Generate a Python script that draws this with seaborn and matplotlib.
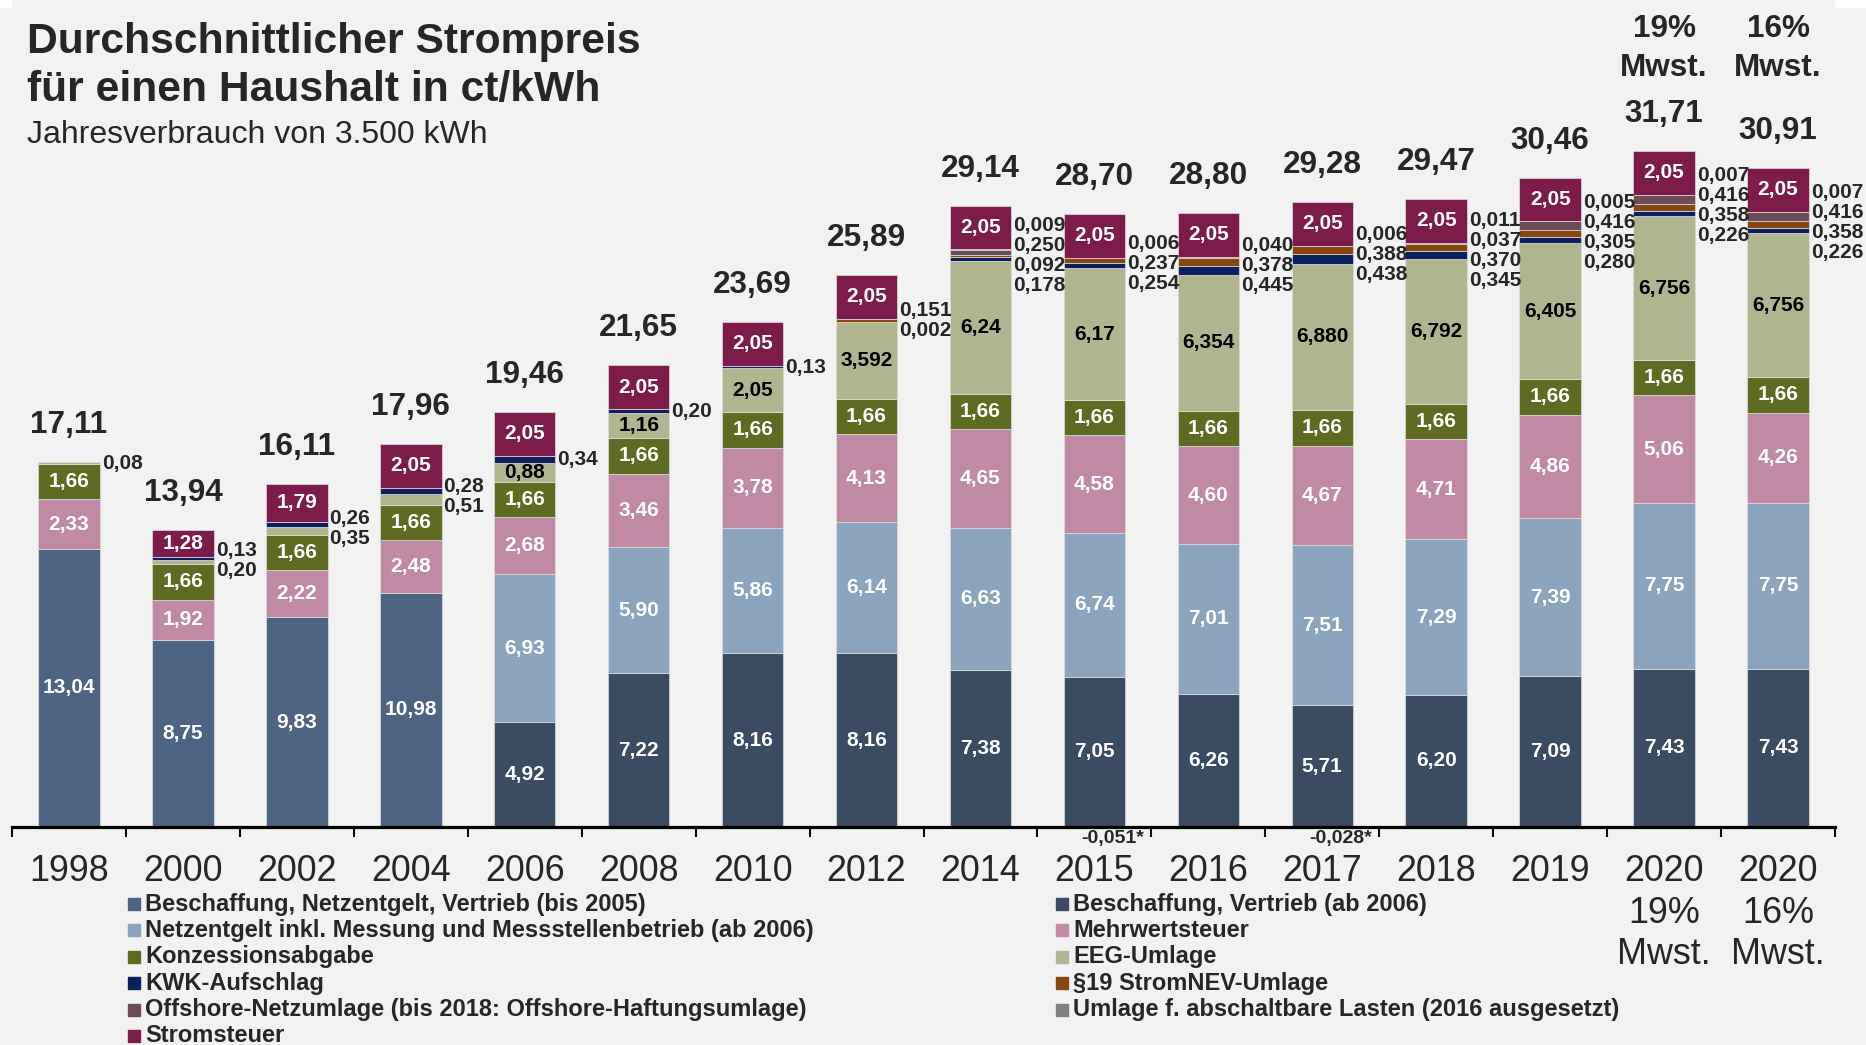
import numpy as np
import pandas as pd
import matplotlib.pyplot as plt
import matplotlib.transforms as mtrans
from matplotlib.patches import Rectangle
import seaborn as sns

# --------- DATA (ct/kWh) ----------
years = ["1998", "2000", "2002", "2004", "2006", "2008", "2010", "2012",
         "2014", "2015", "2016", "2017", "2018", "2019", "2020", "2020"]
year_labels = years[:14] + ["2020\n19%\nMwst.", "2020\n16%\nMwst."]
totals = [17.11, 13.94, 16.11, 17.96, 19.46, 21.65, 23.69, 25.89,
          29.14, 28.70, 28.80, 29.28, 29.47, 30.46, 31.71, 30.91]

beschaffung_bis2005 = [13.04, 8.75, 9.83, 10.98, 0, 0, 0, 0, 0, 0, 0, 0, 0, 0, 0, 0]
beschaffung_ab2006 = [0, 0, 0, 0, 4.92, 7.22, 8.16, 8.16, 7.38, 7.05, 6.26, 5.71, 6.20, 7.09, 7.43, 7.43]
netzentgelt = [0, 0, 0, 0, 6.93, 5.90, 5.86, 6.14, 6.63, 6.74, 7.01, 7.51, 7.29, 7.39, 7.75, 7.75]
mwst = [2.33, 1.92, 2.22, 2.48, 2.68, 3.46, 3.78, 4.13, 4.65, 4.58, 4.60, 4.67, 4.71, 4.86, 5.06, 4.26]
konzession = [1.66, 1.66, 1.66, 1.66, 1.66, 1.66, 1.66, 1.66, 1.66, 1.66, 1.66, 1.66, 1.66, 1.66, 1.66, 1.66]
eeg = [0.08, 0.20, 0.35, 0.51, 0.88, 1.16, 2.05, 3.592, 6.24, 6.17, 6.354, 6.880, 6.792, 6.405, 6.756, 6.756]
eeg_decimals = [2, 2, 2, 2, 2, 2, 2, 3, 2, 2, 3, 3, 3, 3, 3, 3]
kwk = [0, 0.13, 0.26, 0.28, 0.34, 0.20, 0.13, 0.002, 0.178, 0.254, 0.445, 0.438, 0.345, 0.280, 0.226, 0.226]
stromnev = [0, 0, 0, 0, 0, 0, 0, 0.151, 0.092, 0.237, 0.378, 0.388, 0.370, 0.305, 0.358, 0.358]
offshore = [0, 0, 0, 0, 0, 0, 0, 0, 0.250, -0.051, 0.040, -0.028, 0.037, 0.416, 0.416, 0.416]
abschaltbar = [0, 0, 0, 0, 0, 0, 0, 0, 0.009, 0.006, 0, 0.006, 0.011, 0.005, 0.007, 0.007]
stromsteuer = [0, 1.28, 1.79, 2.05, 2.05, 2.05, 2.05, 2.05, 2.05, 2.05, 2.05, 2.05, 2.05, 2.05, 2.05, 2.05]

df = pd.DataFrame({
    "bis2005": beschaffung_bis2005, "ab2006": beschaffung_ab2006,
    "netz": netzentgelt, "mwst": mwst, "konz": konzession, "eeg": eeg,
    "kwk": kwk, "nev": stromnev, "offshore": offshore,
    "ablast": abschaltbar, "steuer": stromsteuer,
})

# stacking order bottom -> top: (column, legend label, colour, label colour)
layers = [
    ("bis2005", "Beschaffung, Netzentgelt, Vertrieb (bis 2005)", "#4f6482", "white"),
    ("ab2006", "Beschaffung, Vertrieb (ab 2006)", "#3b4b62", "white"),
    ("netz", "Netzentgelt inkl. Messung und Messstellenbetrieb (ab 2006)", "#8ba3bd", "white"),
    ("mwst", "Mehrwertsteuer", "#c08aa5", "white"),
    ("konz", "Konzessionsabgabe", "#5f6b23", "white"),
    ("eeg", "EEG-Umlage", "#b0b48f", "black"),
    ("kwk", "KWK-Aufschlag", "#0c1f5e", "white"),
    ("nev", "§19 StromNEV-Umlage", "#87470f", "white"),
    ("offshore", "Offshore-Netzumlage (bis 2018: Offshore-Haftungsumlage)", "#6c4d55", "white"),
    ("ablast", "Umlage f. abschaltbare Lasten (2016 ausgesetzt)", "#7f7f7f", "white"),
    ("steuer", "Stromsteuer", "#7d1c4b", "white"),
]
side_order = ["ablast", "offshore", "nev", "kwk", "eeg"]


def fmt(v, d=2):
    return f"{v:.{d}f}".replace(".", ",")


# --------- STYLE ----------
sns.set_theme(style="white")
plt.rcParams["font.family"] = ["Liberation Sans", "DejaVu Sans"]
BG = "#f2f2f2"

W, H = 1866, 1045
fig = plt.figure(figsize=(W / 100, H / 100), dpi=100, facecolor=BG)
ax = fig.add_axes([12 / W, (H - 827) / H, 1823 / W, 827 / H])
ax.set_facecolor(BG)
fig.add_artist(Rectangle((0, 1 - 7 / H), 1, 7 / H, transform=fig.transFigure,
                         color="white", zorder=0))

x = np.arange(len(years))
bar_w = 0.54
bottom = np.zeros(len(x))
seg = {}

for col, label, color, tcol in layers:
    vals = df[col].to_numpy(dtype=float)
    pos = np.where(vals > 0, vals, 0)
    neg = np.where(vals < 0, vals, 0)
    ax.bar(x, pos, bottom=bottom, width=bar_w, color=color,
           edgecolor="#dedede", linewidth=0.5)
    if (neg < 0).any():
        ax.bar(x, neg, bottom=0, width=bar_w, color=color, linewidth=0)
    for i, v in enumerate(vals):
        if v >= 0.6:
            d = eeg_decimals[i] if col == "eeg" else 2
            ax.text(x[i], bottom[i] + v / 2, fmt(v, d), ha="center", va="center",
                    color=tcol, fontsize=15, fontweight="bold")
    seg[col] = (bottom.copy(), bottom + pos)
    bottom = bottom + pos

# small components labelled beside the bar
for i in x:
    items = [c for c in side_order if 0 < df[c].iloc[i] < 0.6]
    if items:
        lo = min(seg[c][0][i] for c in items)
        hi = max(seg[c][1][i] for c in items)
        mid = (lo + hi) / 2
        n = len(items)
        for k, c in enumerate(items):
            d = 3 if i >= 7 else 2
            ax.annotate(fmt(df[c].iloc[i], d), xy=(x[i] + bar_w / 2, mid),
                        xytext=(2, ((n - 1) / 2 - k) * 20), textcoords="offset pixels",
                        ha="left", va="center", fontsize=15, fontweight="bold")
    # negative offshore values below the axis
    if df["offshore"].iloc[i] < 0:
        ax.annotate(fmt(df["offshore"].iloc[i], 3) + "*", xy=(x[i] + 0.16, 0),
                    xytext=(0, -11), textcoords="offset pixels",
                    ha="center", va="center", fontsize=14, fontweight="bold",
                    annotation_clip=False)

# totals
for i in x:
    ax.annotate(fmt(totals[i]), xy=(x[i], bottom[i]), xytext=(0, 37),
                textcoords="offset pixels", ha="center", va="center",
                fontsize=22.7, fontweight="bold")

# VAT note above the two 2020 bars
trans = mtrans.blended_transform_factory(ax.transData, fig.transFigure)
for i, pct in [(14, "19%"), (15, "16%")]:
    ax.text(x[i], 1 - 29 / H, pct, transform=trans, ha="center", va="center",
            fontsize=22.7, fontweight="bold")
    ax.text(x[i], 1 - 68 / H, "Mwst.", transform=trans, ha="center", va="center",
            fontsize=22.7, fontweight="bold")

# --------- AXES ----------
ax.set_xlim(-0.5, len(x) - 0.5)
ax.set_ylim(0, 827 / 21.32)
ax.set_yticks([])
for s in ["left", "right", "top"]:
    ax.spines[s].set_visible(False)
ax.spines["bottom"].set_linewidth(2.3)
ax.spines["bottom"].set_color("black")

ax.set_xticks(np.arange(-0.5, len(x), 1))
ax.set_xticklabels([])
ax.tick_params(axis="x", which="major", direction="out", length=7.2, width=1.5,
               color="black", bottom=True)
ax.set_xticks(x, minor=True)
ax.set_xticklabels(year_labels, minor=True, fontsize=25.8)
ax.tick_params(axis="x", which="minor", length=0, pad=19.5)
for lbl in ax.get_xticklabels(minor=True):
    lbl.set_linespacing(1.24)

# --------- TITLE ----------
fig.text(27 / W, 1 - 53 / H, "Durchschnittlicher Strompreis", fontsize=30.7,
         fontweight="bold", va="baseline", ha="left")
fig.text(27 / W, 1 - 101 / H, "für einen Haushalt in ct/kWh", fontsize=30.7,
         fontweight="bold", va="baseline", ha="left")
fig.text(27 / W, 1 - 143 / H, "Jahresverbrauch von 3.500 kWh", fontsize=23,
         va="baseline", ha="left")

# --------- LEGEND ----------
legend_order = ["bis2005", "ab2006", "netz", "mwst", "konz", "eeg",
                "kwk", "nev", "offshore", "ablast", "steuer"]
info = {c: (label, color) for c, label, color, _ in layers}
for k, c in enumerate(legend_order):
    label, color = info[c]
    row, colno = divmod(k, 2)
    xs = 128 if colno == 0 else 1056
    yc = 904 + row * 26.4
    fig.add_artist(Rectangle((xs / W, 1 - (yc + 6) / H), 12 / W, 12 / H,
                             transform=fig.transFigure, color=color))
    fig.text((xs + 17) / W, 1 - yc / H, label, fontsize=17, fontweight="bold",
             ha="left", va="center")

fig.savefig("out.png", dpi=100, facecolor=BG)
